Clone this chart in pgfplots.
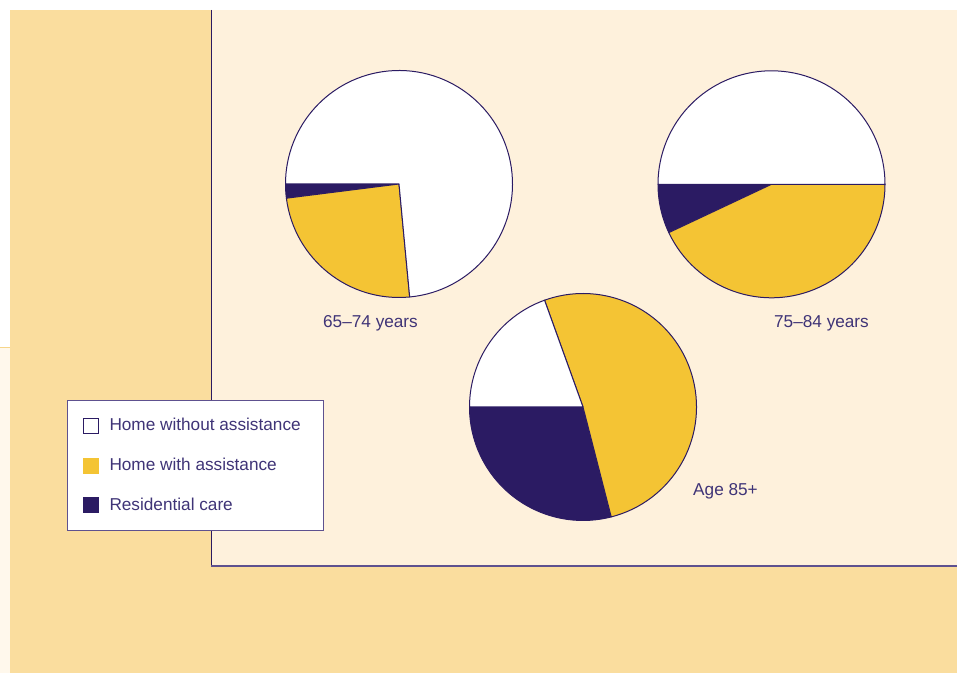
\documentclass[border=0pt]{standalone}
\usepackage{fontspec}
\setmainfont{Liberation Sans}
\usepackage{pgfplots}
\usepackage{pgfplotstable}
\pgfplotsset{compat=1.18}

\definecolor{cnavy}{HTML}{2B1B63}
\definecolor{cyellow}{HTML}{F4C434}
\definecolor{corange}{HTML}{FADD9E}
\definecolor{cpanel}{HTML}{FEF1DC}
\definecolor{ctext}{HTML}{3F3477}
\definecolor{cborder}{HTML}{5E518F}
\definecolor{cstrip}{HTML}{FFF8EC}
\definecolor{cstripline}{HTML}{F6D58A}

% pie data: centre (picture units) and shares in per cent
\pgfplotstableread{
row cx    cy    res with without
0   399   489   2   24.5 73.5
1   771.5 488.7 7   43   50
2   583   266   29  51.5 19.5
}\piedata

\newcommand\pieR{56.75pt}

\newcommand\prep[1]{%
  \pgfplotstablegetelem{#1}{res}\of\piedata\let\pres\pgfplotsretval
  \pgfplotstablegetelem{#1}{with}\of\piedata\let\pwith\pgfplotsretval
  \pgfplotstablegetelem{#1}{without}\of\piedata\let\pwo\pgfplotsretval
  \pgfplotstablegetelem{#1}{cx}\of\piedata\expandafter\let\csname pcx#1\endcsname\pgfplotsretval
  \pgfplotstablegetelem{#1}{cy}\of\piedata\expandafter\let\csname pcy#1\endcsname\pgfplotsretval
  \pgfmathsetmacro\tmpB{180+3.6*\pres}\expandafter\let\csname paB#1\endcsname\tmpB
  \pgfmathsetmacro\tmpC{\tmpB+3.6*\pwith}\expandafter\let\csname paC#1\endcsname\tmpC
  \pgfmathsetmacro\tmpD{\tmpC+3.6*\pwo}\expandafter\let\csname paD#1\endcsname\tmpD
}
\prep{0}\prep{1}\prep{2}

\newcommand\drawpie[1]{\pgfplotsextra{%
  \edef\cx{\csname pcx#1\endcsname}%
  \edef\cy{\csname pcy#1\endcsname}%
  \edef\aB{\csname paB#1\endcsname}%
  \edef\aC{\csname paC#1\endcsname}%
  \edef\aD{\csname paD#1\endcsname}%
  \filldraw[fill=cnavy,draw=cnavy,line width=0.5pt,line join=round] (axis cs:\cx,\cy) -- ++(180:\pieR) arc[start angle=180,end angle=\aB,radius=\pieR] -- cycle;
  \filldraw[fill=cyellow,draw=cnavy,line width=0.5pt,line join=round] (axis cs:\cx,\cy) -- ++(\aB:\pieR) arc[start angle=\aB,end angle=\aC,radius=\pieR] -- cycle;
  \filldraw[fill=white,draw=cnavy,line width=0.5pt,line join=round] (axis cs:\cx,\cy) -- ++(\aC:\pieR) arc[start angle=\aC,end angle=\aD,radius=\pieR] -- cycle;
}}

\begin{document}
\begin{tikzpicture}
\begin{axis}[
  x=0.5pt, y=0.5pt,
  xmin=0, xmax=957, ymin=0, ymax=673,
  hide axis, clip=false,
  legend image code/.code={\draw[#1,line width=0.5pt] (0pt,-3.75pt) rectangle (7.5pt,3.75pt);},
  legend cell align=left,
  legend style={at={(axis cs:67,272.5)}, anchor=north west,
    draw=cborder, fill=white, line width=0.5pt,
    font=\fontsize{8.6}{10}\selectfont, text=ctext,
    inner xsep=7.5pt, inner ysep=6.5pt, row sep=8.2pt, column sep=3.5pt,
    nodes={inner sep=2pt}},
]
% backgrounds
\fill[white] (axis cs:0,0) rectangle (axis cs:957,673);
\coordinate (bbSW) at (axis cs:0,0);
\coordinate (bbNE) at (axis cs:957,673);
\fill[cstrip] (axis cs:0,0) rectangle (axis cs:10,325);
\draw[cstripline,line width=0.5pt] (axis cs:0,325) -- (axis cs:10,325);
\fill[corange] (axis cs:10,0) rectangle (axis cs:957,663);
\fill[cpanel] (axis cs:211,107) rectangle (axis cs:957,663);
\draw[cnavy,line width=0.4pt] (axis cs:211,663) -- (axis cs:211,107);
\draw[cborder,line width=0.6pt] (axis cs:211,107) -- (axis cs:957,107);

\drawpie{0}
\drawpie{1}
\drawpie{2}

\node[font=\fontsize{8.6}{10}\selectfont, text=ctext] at (axis cs:370.5,349.5) {65–74 years};
\node[font=\fontsize{8.6}{10}\selectfont, text=ctext] at (axis cs:821.5,349.5) {75–84 years};
\node[font=\fontsize{8.6}{10}\selectfont, text=ctext] at (axis cs:725.5,182) {Age 85+};

\addlegendimage{fill=white,draw=cnavy}
\addlegendentry{Home without assistance\hspace*{2pt}}
\addlegendimage{fill=cyellow,draw=cyellow}
\addlegendentry{Home with assistance}
\addlegendimage{fill=cnavy,draw=cnavy}
\addlegendentry{Residential care}
\end{axis}
\pgfresetboundingbox
\path[use as bounding box] (bbSW) rectangle (bbNE);
\end{tikzpicture}
\end{document}
